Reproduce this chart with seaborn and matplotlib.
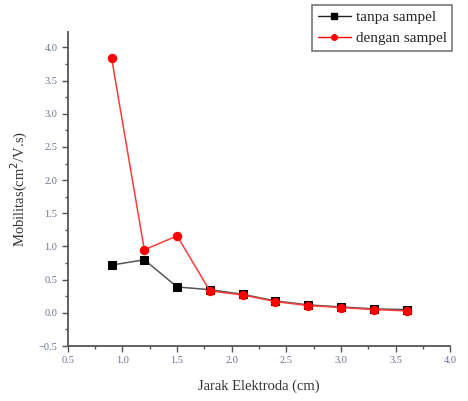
import seaborn as sns
import pandas as pd
import matplotlib.pyplot as plt
from matplotlib.ticker import MultipleLocator

jarak = [0.9, 1.2, 1.5, 1.8, 2.1, 2.4, 2.7, 3.0, 3.3, 3.6]
tanpa_sampel = [0.72, 0.80, 0.39, 0.35, 0.28, 0.18, 0.12, 0.09, 0.06, 0.05]
dengan_sampel = [3.84, 0.95, 1.16, 0.33, 0.27, 0.17, 0.11, 0.08, 0.05, 0.03]

df = pd.DataFrame({
    "jarak": jarak * 2,
    "mob": tanpa_sampel + dengan_sampel,
    "seri": ["tanpa sampel"] * len(jarak) + ["dengan sampel"] * len(jarak),
})

sns.set_style("ticks")
plt.rcParams["font.family"] = ["Liberation Serif", "DejaVu Serif"]

fig = plt.figure(figsize=(4.68, 4.01), dpi=100)
ax = fig.add_axes([0.145, 0.137, 0.817, 0.783])

sns.lineplot(data=df, x="jarak", y="mob", hue="seri", style="seri",
             palette={"tanpa sampel": "#555555", "dengan sampel": "#ff3b3b"},
             markers={"tanpa sampel": "s", "dengan sampel": "o"},
             dashes=False, markersize=6, linewidth=1.1, ax=ax, legend=False)
# recolor markers
for line, c in zip(ax.lines, ["black", "red"]):
    line.set_markerfacecolor(c)
    line.set_markeredgecolor(c)

ax.set_xlim(0.5, 4.0)
ax.set_ylim(-0.5, 4.23)
ax.xaxis.set_major_locator(MultipleLocator(0.5))
ax.xaxis.set_minor_locator(MultipleLocator(0.25))
ax.yaxis.set_major_locator(MultipleLocator(0.5))
ax.yaxis.set_minor_locator(MultipleLocator(0.25))
ax.tick_params(which="major", length=4, width=1, color="#555555",
               labelsize=7.5, labelcolor="#6a7390")
ax.tick_params(which="minor", length=2.5, width=1, color="#555555")
for s in ["top", "right"]:
    ax.spines[s].set_visible(False)
for s in ["left", "bottom"]:
    ax.spines[s].set_color("#555555")
    ax.spines[s].set_linewidth(1.3)

ax.set_xlabel("Jarak Elektroda (cm)", fontsize=10.5, color="#333333", labelpad=10)
ax.set_ylabel("Mobilitas(cm$^2$/V.s)", fontsize=10.5, color="#333333", labelpad=6)

h1, = ax.plot([], [], color="#222222", marker="s", markersize=4, linewidth=1,
              markerfacecolor="black", markeredgecolor="black")
h2, = ax.plot([], [], color="red", marker="o", markersize=4, linewidth=1,
              markerfacecolor="red", markeredgecolor="red")
leg = ax.legend([h1, h2], ["tanpa sampel", "dengan sampel"], loc="upper left",
                bbox_to_anchor=(0.667, 0.988), bbox_transform=fig.transFigure,
                fontsize=11, frameon=True,
                fancybox=False, edgecolor="#555555", handlelength=2.2,
                handletextpad=0.3, borderpad=0.35, labelspacing=0.5,
                borderaxespad=0)
leg.get_frame().set_linewidth(1.2)

fig.savefig("out.png", dpi=100)
